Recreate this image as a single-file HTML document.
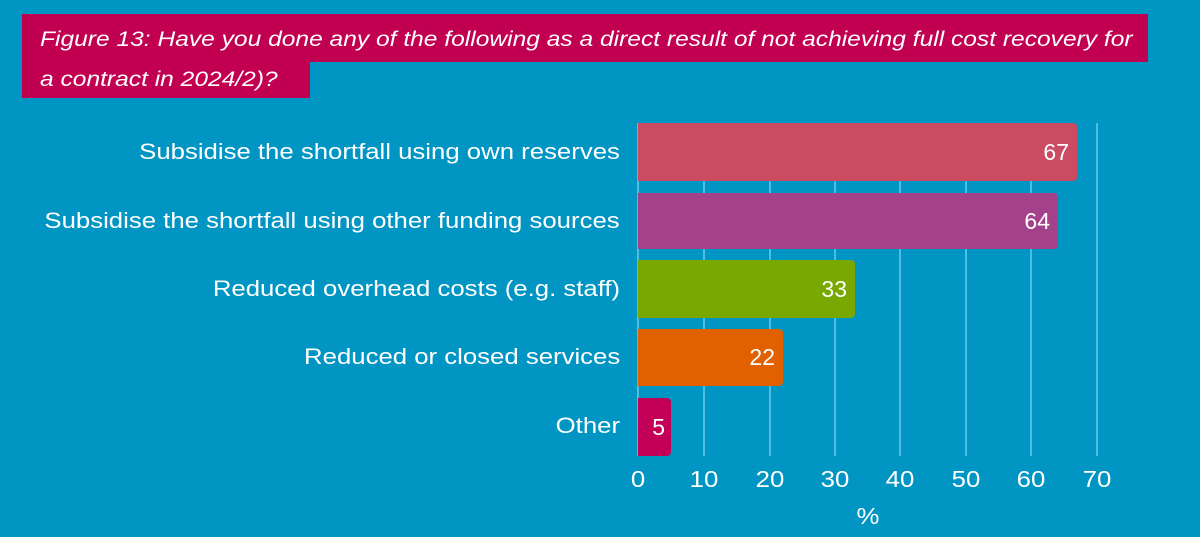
<!DOCTYPE html>
<html><head><style>
body{margin:0;width:1200px;height:537px;background:#0195c3;font-family:"Liberation Sans",sans-serif;overflow:hidden;position:relative}
.t{position:absolute;color:#fff;font-style:italic;font-size:21px;white-space:nowrap;transform:scaleX(1.17);transform-origin:left center}
.lab{position:absolute;right:580px;color:#fff;font-size:22px;white-space:nowrap;line-height:22px;transform:scaleX(1.17);transform-origin:right center}
.g{position:absolute;top:123px;height:333px;width:2px;background:#4dbde0}
.bar{position:absolute;left:638px;border-radius:0 4px 4px 0;color:#fff;font-size:23px;text-align:right;box-sizing:border-box;padding-right:8px}
.tk{position:absolute;top:466px;color:#fff;font-size:23px;width:40px;margin-left:-20px;text-align:center;transform:scaleX(1.12)}
</style></head><body>
<div style="position:absolute;left:22px;top:14px;width:1126px;height:48px;background:#c20051"></div>
<div style="position:absolute;left:22px;top:62px;width:288px;height:36px;background:#c20051"></div>
<div class="t" style="left:40px;top:28px">Figure 13: Have you done any of the following as a direct result of not achieving full cost recovery for</div>
<div class="t" style="left:40px;top:68px">a contract in 2024/2)?</div>
<div class="g" style="left:637px"></div>
<div class="g" style="left:703px"></div>
<div class="g" style="left:769px"></div>
<div class="g" style="left:834px"></div>
<div class="g" style="left:899px"></div>
<div class="g" style="left:965px"></div>
<div class="g" style="left:1030px"></div>
<div class="g" style="left:1096px"></div>
<div class="lab" style="top:141px">Subsidise the shortfall using own reserves</div>
<div class="lab" style="top:210px">Subsidise the shortfall using other funding sources</div>
<div class="lab" style="top:278px">Reduced overhead costs (e.g. staff)</div>
<div class="lab" style="top:346px">Reduced or closed services</div>
<div class="lab" style="top:415px">Other</div>
<div class="bar" style="top:123px;height:58px;width:439px;background:#cb4b63;line-height:58px">67</div>
<div class="bar" style="top:193px;height:56px;width:420px;background:#a3428a;line-height:56px">64</div>
<div class="bar" style="top:260px;height:58px;width:217px;background:#79a800;line-height:58px">33</div>
<div class="bar" style="top:329px;height:57px;width:145px;background:#e16100;line-height:57px">22</div>
<div class="bar" style="top:398px;height:58px;width:33px;background:#c20058;line-height:58px;padding-right:6px">5</div>
<div class="tk" style="left:638px">0</div>
<div class="tk" style="left:704px">10</div>
<div class="tk" style="left:770px">20</div>
<div class="tk" style="left:835px">30</div>
<div class="tk" style="left:900px">40</div>
<div class="tk" style="left:966px">50</div>
<div class="tk" style="left:1031px">60</div>
<div class="tk" style="left:1097px">70</div>
<div class="tk" style="left:868px;top:503px">%</div>
</body></html>
